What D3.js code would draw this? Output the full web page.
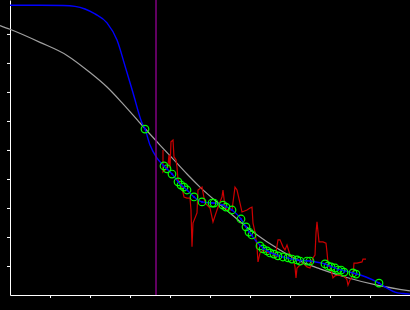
<!DOCTYPE html>
<html>
<head>
<meta charset="utf-8">
<script src="https://cdn.jsdelivr.net/npm/d3@7"></script>
<style>
  body { margin: 0; background: #000; }
  svg { display: block; background: #000; }
</style>
</head>
<body>
<div id="chart"></div>
<script>
var width = 410;
var height = 310;

// tick values on both axes
var xTicks = [1, 2, 3, 4, 5, 6, 7, 8, 9];
var yTicks = [1, 2, 3, 4, 5, 6, 7, 8, 9];

// fitted (blue) curve
var fitX = [0, 0.75, 1.325, 1.625, 1.875, 2.125, 2.425, 2.675, 2.875, 3.075, 3.3, 3.375, 3.5, 3.675, 3.85, 4.05, 4.25, 4.425, 4.6, 4.8, 5.075, 5.325, 5.55, 5.775, 5.95, 6.125, 6.3, 6.5, 6.825, 7.175, 7.5, 7.875, 8.2, 8.575, 8.9, 9.225, 9.425, 9.625, 9.825, 10];
var fitY = [9.99, 9.99, 9.98, 9.95, 9.86, 9.69, 9.38, 8.79, 7.90, 6.97, 5.93, 5.72, 5.17, 4.72, 4.45, 4.17, 3.83, 3.62, 3.38, 3.21, 3.17, 3.10, 2.93, 2.62, 2.24, 1.90, 1.66, 1.48, 1.31, 1.21, 1.17, 1.07, 0.90, 0.76, 0.62, 0.41, 0.24, 0.10, 0.05, 0.03];

// reference (gray) curve
var refX = [-0.25, 0, 0.75, 1.425, 2.0, 2.425, 2.825, 3.25, 3.75, 4.075, 4.425, 4.75, 5.325, 6.075, 6.75, 7.25, 7.75, 8.375, 9.175, 10];
var refY = [9.29, 9.16, 8.71, 8.26, 7.67, 7.17, 6.59, 5.93, 5.17, 4.69, 4.17, 3.72, 3.03, 2.17, 1.55, 1.17, 0.90, 0.62, 0.34, 0.14];

// raw measurements (red)
var rawX = [3.825, 3.825, 3.875, 3.95, 3.975, 4.0, 4.025, 4.075, 4.1, 4.15, 4.175, 4.2, 4.25, 4.3, 4.35, 4.425, 4.5, 4.525, 4.55, 4.575, 4.675, 4.7, 4.8, 4.875, 5.0, 5.075, 5.175, 5.3, 5.325, 5.375, 5.425, 5.55, 5.625, 5.675, 5.75, 5.8, 5.925, 6.0, 6.05, 6.075, 6.125, 6.175, 6.2, 6.25, 6.325, 6.45, 6.55, 6.625, 6.7, 6.75, 6.825, 6.875, 6.925, 7.0, 7.075, 7.125, 7.15, 7.175, 7.25, 7.325, 7.425, 7.5, 7.575, 7.625, 7.65, 7.675, 7.7, 7.725, 7.825, 7.9, 7.925, 7.95, 8.0, 8.075, 8.125, 8.2, 8.325, 8.375, 8.425, 8.45, 8.5, 8.575, 8.6, 8.675, 8.8, 8.825, 8.9];
var rawY = [5.00, 4.24, 4.31, 4.48, 4.83, 4.38, 5.28, 5.34, 4.76, 4.66, 4.41, 3.97, 3.86, 3.69, 3.38, 3.34, 3.34, 2.93, 1.66, 2.48, 2.83, 3.62, 3.72, 3.17, 3.00, 2.52, 2.93, 3.38, 3.62, 3.03, 2.93, 2.93, 3.72, 3.62, 3.17, 2.86, 2.93, 3.00, 3.03, 2.48, 2.17, 1.66, 1.14, 1.45, 1.55, 1.45, 1.48, 1.28, 1.90, 1.90, 1.66, 1.55, 1.72, 1.38, 1.28, 0.97, 0.59, 0.93, 1.03, 1.10, 0.97, 0.93, 1.28, 1.38, 2.14, 2.52, 2.17, 1.83, 1.83, 1.79, 1.48, 1.10, 0.97, 0.59, 0.66, 0.69, 0.66, 0.62, 0.52, 0.34, 0.52, 0.69, 1.10, 1.10, 1.14, 1.24, 1.24];

// sample points (green circles)
var ptX = [3.375, 3.85, 3.925, 4.05, 4.2, 4.275, 4.35, 4.425, 4.6, 4.8, 5.05, 5.1, 5.325, 5.4, 5.55, 5.775, 5.9, 5.975, 6.05, 6.25, 6.325, 6.425, 6.5, 6.6, 6.7, 6.825, 6.95, 7.05, 7.175, 7.25, 7.425, 7.5, 7.875, 7.95, 8.025, 8.125, 8.2, 8.275, 8.35, 8.575, 8.65, 9.225];
var ptY = [5.72, 4.45, 4.35, 4.17, 3.90, 3.79, 3.72, 3.62, 3.38, 3.21, 3.17, 3.17, 3.10, 3.03, 2.93, 2.62, 2.35, 2.17, 2.07, 1.69, 1.59, 1.52, 1.45, 1.41, 1.35, 1.31, 1.28, 1.24, 1.21, 1.17, 1.17, 1.17, 1.07, 1.00, 0.97, 0.93, 0.86, 0.86, 0.79, 0.76, 0.72, 0.41];

// cutoff marker
var cutoffX = 3.65;

var svg = d3.select("#chart").append("svg")
    .attr("width", width)
    .attr("height", height);

var xScale = d3.scaleLinear().domain([0, 10]).range([10, 410]);
var yScale = d3.scaleLinear().domain([0, 10.17]).range([295, 0]);

function pairs(xs, ys) {
    return xs.map(function(x, i) { return [x, ys[i]]; });
}

var xAxis = d3.axisBottom(xScale).tickValues(xTicks).tickSize(3).tickSizeOuter(0).tickFormat("");
var yAxis = d3.axisLeft(yScale).tickValues(yTicks).tickSize(3).tickSizeOuter(0).tickFormat("");

svg.append("g")
    .attr("transform", "translate(0," + yScale(0) + ")")
    .call(xAxis)
    .call(function(g) { g.selectAll("path, line").attr("stroke", "#fff"); });

svg.append("g")
    .attr("transform", "translate(" + xScale(0) + ",0)")
    .call(yAxis)
    .call(function(g) { g.selectAll("path, line").attr("stroke", "#fff"); });

var line = d3.line()
    .x(function(d) { return xScale(d[0]); })
    .y(function(d) { return yScale(d[1]); });

svg.append("path")  // gray reference curve
    .attr("d", line.curve(d3.curveMonotoneX)(pairs(refX, refY)))
    .attr("fill", "none")
    .attr("stroke", "#a0a0a0")
    .attr("stroke-width", 1.2);

svg.append("path")  // red raw data
    .attr("d", line.curve(d3.curveLinear)(pairs(rawX, rawY)))
    .attr("fill", "none")
    .attr("stroke", "#cc0000")
    .attr("stroke-width", 1.2);

svg.append("path")  // blue fit
    .attr("d", line.curve(d3.curveMonotoneX)(pairs(fitX, fitY)))
    .attr("fill", "none")
    .attr("stroke", "#0000ff")
    .attr("stroke-width", 1.4);

svg.append("line")  // purple cutoff
    .attr("x1", xScale(cutoffX)).attr("x2", xScale(cutoffX))
    .attr("y1", yScale(10.17)).attr("y2", yScale(0))
    .attr("stroke", "#800080")
    .attr("stroke-width", 1.5);

var pts = pairs(ptX, ptY);

svg.selectAll("circle.pt")
    .data(pts)
    .enter().append("circle")
    .attr("class", "pt")
    .attr("cx", function(d) { return xScale(d[0]); })
    .attr("cy", function(d) { return yScale(d[1]); })
    .attr("r", 3.8)
    .attr("fill", "none")
    .attr("stroke", "#00ff00")
    .attr("stroke-width", 1.2);

svg.selectAll("circle.dot")
    .data(pts)
    .enter().append("circle")
    .attr("class", "dot")
    .attr("cx", function(d) { return xScale(d[0]); })
    .attr("cy", function(d) { return yScale(d[1]); })
    .attr("r", 1)
    .attr("fill", "#0000ff");
</script>
</body>
</html>
